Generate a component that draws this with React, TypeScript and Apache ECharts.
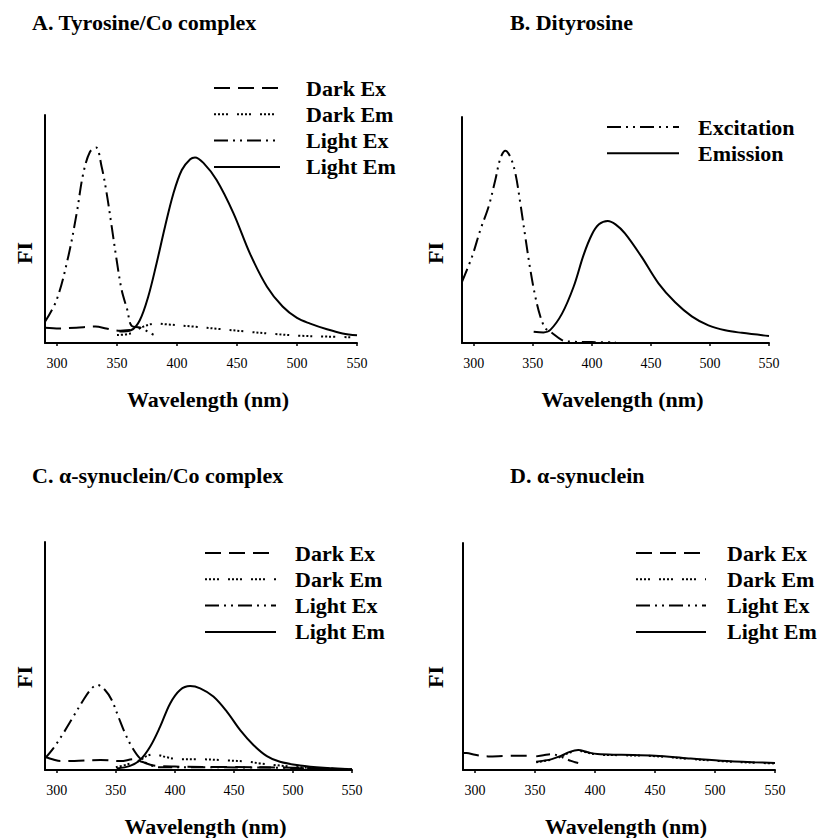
import React, { useEffect, useRef } from 'react';
import * as echarts from 'echarts';

const FONT = '"Liberation Serif", "Times New Roman", Times, serif';

// ---------- tick labels ----------
const xTicks = [300, 350, 400, 450, 500, 550];

// ---------- Panel A: Tyrosine/Co complex ----------
const aDarkExWl = [290, 302, 316, 332, 341, 351, 361];
const aDarkExFI = [6.7, 6.4, 6.7, 7.2, 6.4, 5.4, 5.7];
const aDarkEmWl = [350, 361, 372, 383, 391, 414, 436, 458, 480, 502, 525, 545];
const aDarkEmFI = [3.5, 4.2, 7.2, 8.6, 8.2, 7.2, 6.1, 5.0, 4.0, 3.2, 2.8, 2.5];
const aLightExWl = [290, 299.7, 309.4, 316.4, 321.9, 327.5, 332.5, 337.2, 341.4, 345.6, 349.7, 353.9, 358.6, 362.2, 369, 377, 384];
const aLightExFI = [9.3, 18.9, 37.9, 56.9, 74.4, 83.9, 85.7, 77.3, 65.6, 51, 36.4, 23.2, 14.5, 7.5, 6.8, 4.6, 2.6];
const aLightEmWl = [352, 362, 369, 376, 383, 390, 397, 404, 411, 415, 422, 433, 447, 461, 475, 488, 500, 511, 525, 538, 550];
const aLightEmFI = [5, 5.7, 10, 20.3, 35, 51, 65.6, 75.9, 80.6, 81.4, 79, 71.5, 57, 39, 24.7, 16, 11, 8.5, 6, 4.2, 3.4];

// ---------- Panel B: Dityrosine ----------
const bExWl = [290, 298.5, 305.5, 312.5, 318.2, 322.5, 326.7, 330.9, 335.2, 339.4, 343.6, 347.9, 352.1, 356.4, 360.6, 364.8, 374.7, 383, 400, 420];
const bExFI = [27.1, 38.2, 50, 60.3, 72.1, 81.7, 85.1, 82.4, 75.1, 61.8, 47, 32.3, 20.5, 11.6, 6.5, 5, 1.3, 0.6, 0.4, 0.3];
const bEmWl = [350.7, 359, 364.8, 374.7, 384.6, 393, 400, 406, 413.4, 420, 428, 442, 456.4, 470.5, 484.6, 498.7, 512.9, 527, 550];
const bEmFI = [5, 4.7, 5.8, 13, 25, 39, 48, 52.5, 54, 52.5, 48.5, 38.2, 26.4, 18, 11.8, 7.8, 5.6, 4.5, 3.1];

// ---------- Panel C: alpha-synuclein/Co complex ----------
const cDarkExWl = [290, 297, 303, 315, 337, 354, 365, 372, 382, 400, 450, 500, 550];
const cDarkExFI = [5.8, 4.6, 3.9, 4.0, 4.4, 3.9, 4.7, 3.6, 2.0, 1.5, 1.3, 1.0, 0.4];
const cDarkEmWl = [350, 360, 370.5, 376, 382, 393, 404, 421, 444, 461, 472, 484, 506, 540, 550];
const cDarkEmFI = [1.2, 2.5, 4.4, 6.1, 6.9, 5.6, 4.7, 4.7, 4.2, 3.7, 2.9, 2.2, 1.2, 0.4, 0.3];
const cLightExWl = [290, 297, 305.5, 314, 322.5, 329.6, 334.3, 340.8, 346.5, 352.1, 357.8, 363.5, 370.5, 379, 387.5, 420, 460, 490, 520, 550];
const cLightExFI = [5.1, 9.5, 16.1, 23.4, 30.7, 35.8, 37.3, 35.1, 30.7, 23.4, 16.1, 10.2, 5.1, 2.2, 1.2, 1.2, 1.1, 1.0, 0.6, 0.3];
const cLightEmWl = [350.7, 362, 370.5, 379, 387.5, 396, 404.4, 412.9, 421.4, 432.6, 444, 455.3, 466.5, 477.9, 489, 506, 526, 550];
const cLightEmFI = [0.7, 1.8, 4.4, 10.2, 19, 29.2, 35.1, 36.8, 35.8, 32.2, 25.6, 17.5, 11, 6.1, 3.6, 2, 1, 0.3];

// ---------- Panel D: alpha-synuclein ----------
const dDarkExWl = [290, 293, 300, 311, 325, 339, 346];
const dDarkExFI = [7.5, 7.5, 6.7, 6.0, 6.2, 6.3, 6.3];
const dDarkEmWl = [351, 364, 372, 379, 386, 394, 402, 422, 450, 478, 505, 533, 550];
const dDarkEmFI = [3.4, 4.6, 6.0, 7.7, 8.5, 7.6, 6.8, 6.5, 6.1, 4.9, 3.9, 3.2, 2.9];
const dLightExWl = [351, 357, 364, 370, 375, 380, 386];
const dLightExFI = [6.0, 6.5, 7.0, 6.2, 5.1, 4.0, 3.1];
const dLightEmWl = [351, 364, 372, 379, 386, 394, 402, 422, 450, 478, 505, 533, 550];
const dLightEmFI = [3.6, 4.8, 6.3, 8.0, 8.8, 7.8, 7.0, 6.7, 6.3, 5.1, 4.1, 3.4, 3.1];

const panelTitles = ['A. Tyrosine/Co complex', 'B. Dityrosine', 'C. α-synuclein/Co complex', 'D. α-synuclein'];
const fourNames = ['Dark Ex', 'Dark Em', 'Light Ex', 'Light Em'];
const twoNames = ['Excitation', 'Emission'];

// ---------- styles / layout ----------
const DASH: Record<string, any> = {
  darkEx: [16, 8],
  darkEm: [2, 2, 2, 2, 2, 2, 2, 9],
  lightEx: [14, 5, 2, 5, 2, 5],
  solid: 'solid',
};

const GRIDS = [
  { left: 45, top: 115, width: 312, height: 228 },
  { left: 462, top: 117, width: 307, height: 226 },
  { left: 45, top: 542, width: 307, height: 228 },
  { left: 463, top: 543, width: 312, height: 228 },
];

const TITLE_POS = [
  { left: 32, top: 11 },
  { left: 510, top: 11 },
  { left: 32, top: 464 },
  { left: 510, top: 464 },
];

const FI_POS = [
  [24, 253],
  [435, 253],
  [24, 677],
  [435, 677],
];

const LEGENDS = [
  { left: 213, top: 77, itemWidth: 66, pad: 21, names: fourNames },
  { left: 606, top: 116, itemWidth: 72, pad: 14, names: twoNames },
  { left: 204, top: 542, itemWidth: 71, pad: 14, names: fourNames },
  { left: 635, top: 542, itemWidth: 70, pad: 16, names: fourNames },
];

function zip(wl: number[], fi: number[]) {
  return wl.map((w, i) => [w, fi[i]]);
}

function mk(name: string, wl: number[], fi: number[], dash: any, idx: number) {
  return {
    type: 'line',
    name,
    xAxisIndex: idx,
    yAxisIndex: idx,
    data: zip(wl, fi),
    smooth: 0.35,
    symbol: 'none',
    showSymbol: false,
    legendIcon: 'none',
    lineStyle: { color: '#000', width: 2, type: dash },
    itemStyle: { color: '#000' },
    z: 3,
  };
}

export default function App() {
  const ref = useRef<HTMLDivElement>(null);

  useEffect(() => {
    document.body.style.margin = '0';
    if (!ref.current) return;
    const chart = echarts.init(ref.current, null, { renderer: 'svg' });

    const series = [
      mk('Dark Ex', aDarkExWl, aDarkExFI, DASH.darkEx, 0),
      mk('Dark Em', aDarkEmWl, aDarkEmFI, DASH.darkEm, 0),
      mk('Light Ex', aLightExWl, aLightExFI, DASH.lightEx, 0),
      mk('Light Em', aLightEmWl, aLightEmFI, DASH.solid, 0),
      mk('Excitation', bExWl, bExFI, DASH.lightEx, 1),
      mk('Emission', bEmWl, bEmFI, DASH.solid, 1),
      mk('Dark Ex', cDarkExWl, cDarkExFI, DASH.darkEx, 2),
      mk('Dark Em', cDarkEmWl, cDarkEmFI, DASH.darkEm, 2),
      mk('Light Ex', cLightExWl, cLightExFI, DASH.lightEx, 2),
      mk('Light Em', cLightEmWl, cLightEmFI, DASH.solid, 2),
      mk('Dark Ex', dDarkExWl, dDarkExFI, DASH.darkEx, 3),
      mk('Dark Em', dDarkEmWl, dDarkEmFI, DASH.darkEm, 3),
      mk('Light Ex', dLightExWl, dLightExFI, DASH.lightEx, 3),
      mk('Light Em', dLightEmWl, dLightEmFI, DASH.solid, 3),
    ];

    const option: any = {
      animation: false,
      backgroundColor: '#fff',
      title: panelTitles.map((t, i) => ({
        text: t,
        left: TITLE_POS[i].left,
        top: TITLE_POS[i].top,
        padding: 0,
        textStyle: { fontFamily: FONT, fontSize: 22, fontWeight: 'bold', color: '#000' },
      })),
      grid: GRIDS.map((g) => ({ ...g, containLabel: false })),
      xAxis: GRIDS.map((_, i) => ({
        type: 'value',
        gridIndex: i,
        min: 290,
        max: 550,
        axisLine: { show: true, onZero: false, lineStyle: { color: '#000', width: 2 } },
        axisTick: { show: true, customValues: xTicks, length: 3, lineStyle: { color: '#000', width: 1.5 } },
        axisLabel: { customValues: xTicks, fontFamily: FONT, fontSize: 14, color: '#000', margin: 13 },
        splitLine: { show: false },
        name: 'Wavelength (nm)',
        nameLocation: 'middle',
        nameGap: 45,
        nameTextStyle: { fontFamily: FONT, fontSize: 22, fontWeight: 'bold', color: '#000', padding: [0, 0, 0, 14] },
      })),
      yAxis: GRIDS.map((_, i) => ({
        type: 'value',
        gridIndex: i,
        min: 0,
        max: 100,
        axisLine: { show: true, onZero: false, lineStyle: { color: '#000', width: 2 } },
        axisTick: { show: false },
        axisLabel: { show: false },
        splitLine: { show: false },
      })),
      legend: LEGENDS.map((l) => ({
        orient: 'vertical',
        left: l.left,
        top: l.top,
        padding: 0,
        itemWidth: l.itemWidth,
        itemHeight: 12,
        itemGap: 4.3,
        selectedMode: false,
        data: l.names,
        itemStyle: { color: 'rgba(0,0,0,0)', borderColor: 'rgba(0,0,0,0)', borderWidth: 0 },
        textStyle: {
          fontFamily: FONT,
          fontSize: 22,
          fontWeight: 'bold',
          color: '#000',
          lineHeight: 22,
          padding: [0, 0, 0, l.pad],
        },
      })),
      graphic: FI_POS.map(([x, y]) => ({
        type: 'text',
        x,
        y,
        rotation: Math.PI / 2,
        style: {
          text: 'FI',
          fontFamily: FONT,
          fontSize: 22,
          fontWeight: 'bold',
          fill: '#000',
          align: 'center',
          verticalAlign: 'middle',
        },
      })),
      series,
    };

    chart.setOption(option);
    return () => chart.dispose();
  }, []);

  return <div ref={ref} style={{ width: 817, height: 838 }} />;
}
